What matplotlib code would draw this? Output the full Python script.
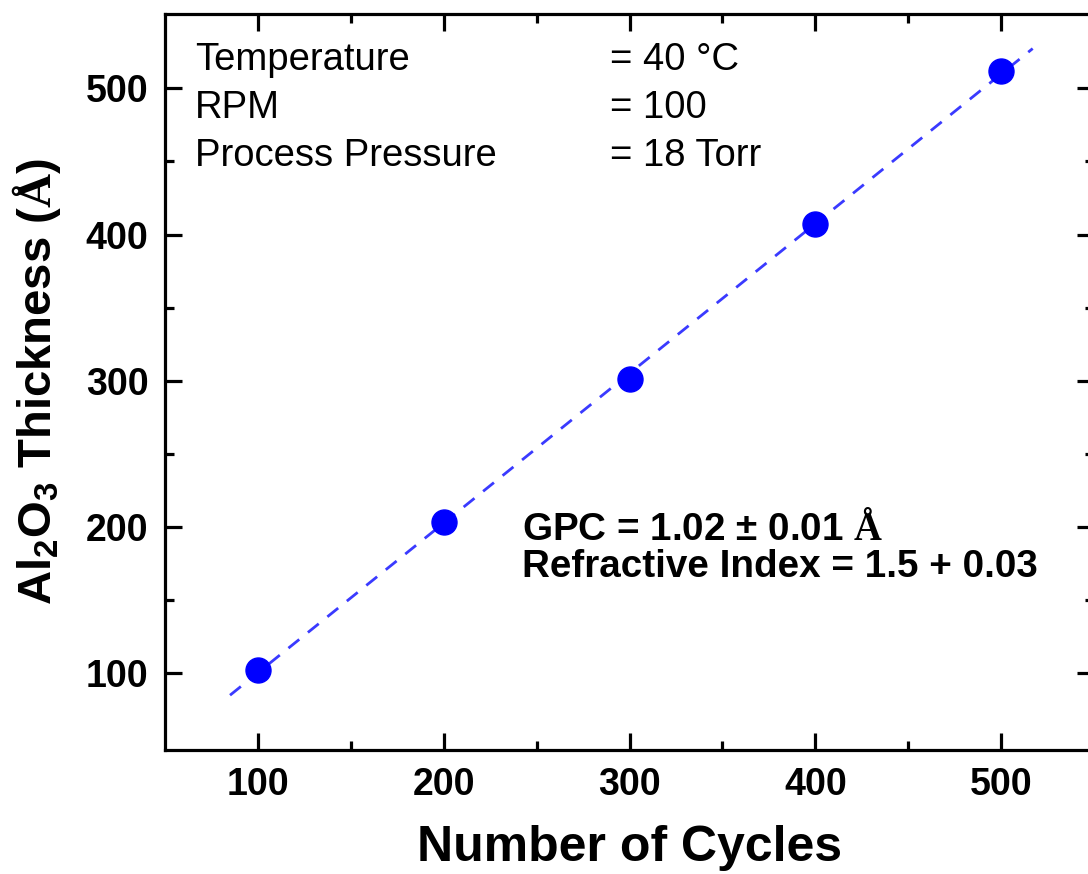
import numpy as np
import matplotlib
matplotlib.use("Agg")
import matplotlib.pyplot as plt
from matplotlib.ticker import MultipleLocator, FixedLocator

plt.rcParams['font.family'] = ['Liberation Sans', 'DejaVu Sans']
plt.rcParams['mathtext.fontset'] = 'custom'
plt.rcParams['mathtext.rm'] = 'Liberation Sans:bold'
plt.rcParams['mathtext.bf'] = 'Liberation Sans:bold'
plt.rcParams['mathtext.it'] = 'Liberation Sans:bold'
plt.rcParams['mathtext.sf'] = 'Liberation Serif:bold'
plt.rcParams['mathtext.default'] = 'rm'

# data
cycles = [100, 200, 300, 400, 500]
thickness = [101.5, 203, 301, 407, 512]
fit_range = [85, 517]

x_minor = [150, 250, 350, 450]
y_minor = [150, 250, 350, 450]

cond_names = ["Temperature", "RPM", "Process Pressure"]
cond_values = ["= 40 \u00b0C", "= 100", "= 18 Torr"]

W, H = 1088, 874
fig = plt.figure(figsize=(W / 100, H / 100), dpi=100)
ax = fig.add_axes([165 / W, 1 - 750 / H, (1094 - 165) / W, (750 - 14) / H])

# linear fit line
p = np.polyfit(cycles, thickness, 1)
xf = np.array(fit_range)
ax.plot(xf, np.polyval(p, xf), ls=(0, (5, 4)), color="#3a3aff", lw=2, zorder=2)
ax.plot(cycles, thickness, "o", color="#0000ff", ms=18, mec="#0000ff", zorder=3)

ax.set_xlim(50, 550)
ax.set_ylim(47, 551)
ax.xaxis.set_major_locator(MultipleLocator(100))
ax.xaxis.set_minor_locator(FixedLocator(x_minor))
ax.yaxis.set_major_locator(MultipleLocator(100))
ax.yaxis.set_minor_locator(FixedLocator(y_minor))

for s in ax.spines.values():
    s.set_linewidth(2.3)
ax.tick_params(which="both", direction="in", top=True, right=True, width=2.3)
ax.tick_params(which="major", length=12, labelsize=27, pad=12)
ax.tick_params(which="minor", length=6.5)
for lbl in ax.get_xticklabels() + ax.get_yticklabels():
    lbl.set_fontweight("bold")

ax.set_xlabel("Number of Cycles", fontsize=36, fontweight="bold", labelpad=16)
ax.set_ylabel(r"Al$_2$O$_3$ Thickness ($\mathsf{\AA}$)", fontsize=34,
              fontweight="bold", labelpad=16)

ys = [70, 118, 166]
for name, val, y in zip(cond_names, cond_values, ys):
    fig.text(195 / W, 1 - y / H, name, fontsize=27.5, va="baseline")
    fig.text(610 / W, 1 - y / H, val, fontsize=27.5, va="baseline")

fig.text(522 / W, 1 - 540 / H, "GPC = 1.02 \u00b1 0.01 " + r"$\mathsf{\AA}$",
         fontsize=27.8, fontweight="bold", va="baseline")
fig.text(522 / W, 1 - 577 / H, "Refractive Index = 1.5 + 0.03",
         fontsize=27.8, fontweight="bold", va="baseline")

fig.savefig("out.png", dpi=100)
